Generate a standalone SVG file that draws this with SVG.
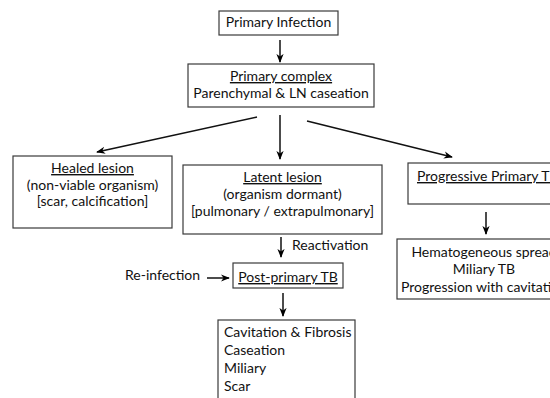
<svg xmlns="http://www.w3.org/2000/svg" width="550" height="398" viewBox="0 0 550 398">
<defs>
<marker id="ah" viewBox="0 0 10 10" refX="9" refY="5" markerWidth="9" markerHeight="9" markerUnits="userSpaceOnUse" orient="auto">
<path d="M0,1 L10,5 L0,9 L3,5 Z" fill="#000"/>
</marker>
<style>
rect{fill:#fff;stroke:#3a3a3a;stroke-width:1.2}
text{font-family:Lato,"Open Sans","Liberation Sans",sans-serif;font-size:14px;fill:#111}
.c{text-anchor:middle}
.u{text-decoration:underline}
.conn line{stroke:#111;stroke-width:1.5;marker-end:url(#ah)}
</style>
</defs>
<rect x="0" y="0" width="550" height="398" style="fill:#fff;stroke:none"/>
<g id="primary-infection"><rect x="219" y="11" width="119" height="24"/><text class="c" x="278.5" y="27">Primary Infection</text></g>
<g id="primary-complex"><rect x="188" y="64" width="186" height="43"/><text class="c u" x="281" y="81">Primary complex</text><text class="c" x="281" y="98">Parenchymal &amp; LN caseation</text></g>
<g id="healed-lesion"><rect x="13" y="156" width="159" height="72"/><text class="c u" x="92.5" y="173">Healed lesion</text><text class="c" x="92.5" y="190">(non-viable organism)</text><text class="c" x="92.5" y="206">[scar, calcification]</text></g>
<g id="latent-lesion"><rect x="183" y="165" width="199" height="69"/><text class="c u" x="282.5" y="182">Latent lesion</text><text class="c" x="282.5" y="199">(organism dormant)</text><text class="c" x="282.5" y="216">[pulmonary / extrapulmonary]</text></g>
<g id="progressive-primary-tb"><rect x="408" y="163" width="160" height="41"/><text class="u" x="417" y="181">Progressive Primary TB</text></g>
<g id="hematogeneous"><rect x="397" y="239" width="170" height="60"/><text class="c" x="484" y="257">Hematogeneous spread</text><text class="c" x="484" y="274">Miliary TB</text><text class="c" x="484" y="292">Progression with cavitation</text></g>
<g id="post-primary-tb"><rect x="233" y="263" width="110" height="25"/><text class="c u" x="288" y="282">Post-primary TB</text></g>
<g id="outcomes"><rect x="218" y="320" width="137" height="90"/><text x="224" y="337">Cavitation &amp; Fibrosis</text><text x="224" y="355">Caseation</text><text x="224" y="373">Miliary</text><text x="224" y="391">Scar</text></g>
<g id="reinfection-label"><text x="125" y="280">Re-infection</text></g>
<g id="reactivation-label"><text x="292" y="250">Reactivation</text></g>
<g id="connectors" class="conn">
<line x1="280" y1="40" x2="280" y2="62"/>
<line x1="257" y1="117" x2="97" y2="152"/>
<line x1="280" y1="115" x2="280" y2="159"/>
<line x1="307" y1="121" x2="452" y2="157"/>
<line x1="486" y1="212" x2="486" y2="234"/>
<line x1="281" y1="237" x2="281" y2="257"/>
<line x1="207" y1="278" x2="229" y2="278"/>
<line x1="283" y1="293" x2="283" y2="316"/>
</g>
</svg>
